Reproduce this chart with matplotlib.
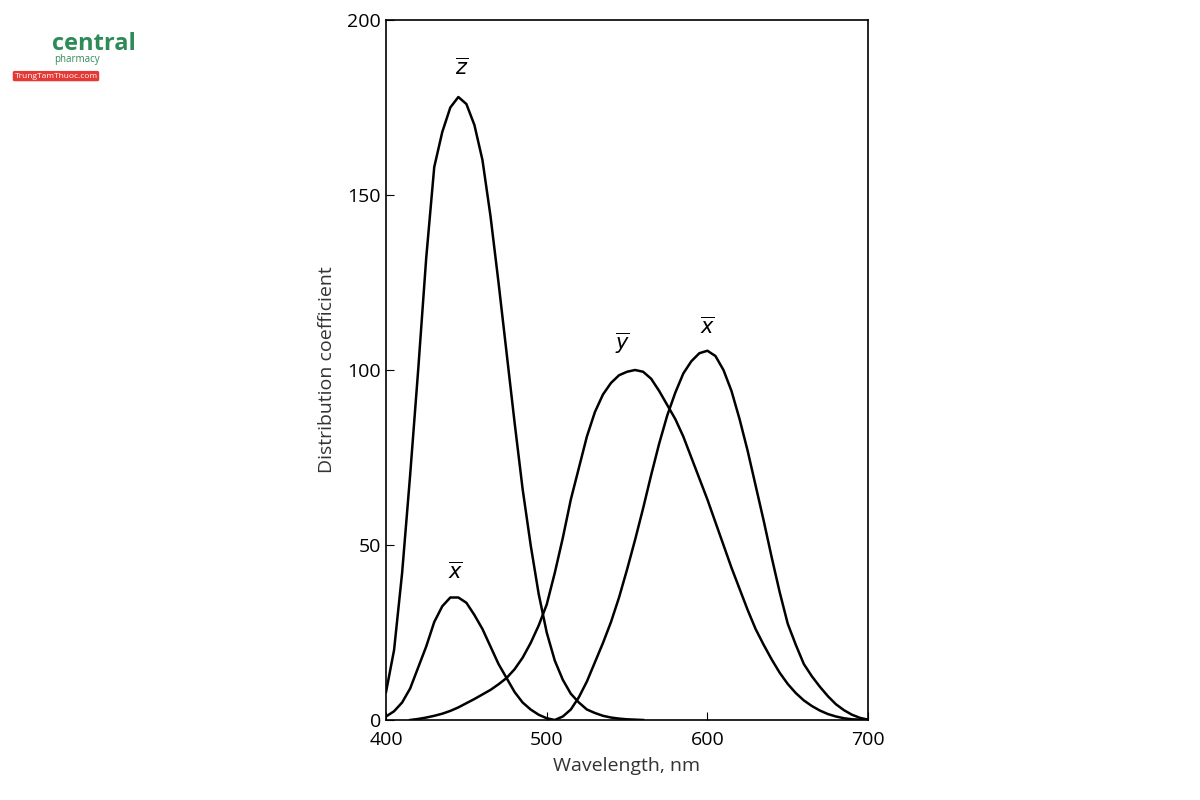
import numpy as np
import matplotlib.pyplot as plt

# colour matching curves (wavelength nm, coefficient)
z_wl = list(range(400, 565, 5))
z_val = [8, 20, 42, 70, 100, 132, 158, 168, 175, 178, 176, 170, 160, 144, 125, 105, 85,
         66, 50, 36, 25, 17, 11.5, 7.5, 5, 3, 2, 1.2, 0.7, 0.4, 0.2, 0.1, 0]

x_wl = list(range(400, 705, 5))
x_val = [1, 2.5, 5, 9, 15, 21, 28, 32.5, 35, 35, 33.5, 30, 26, 21, 16, 12, 8, 5, 3, 1.5, 0.5,
         0, 1, 3, 6.5, 11, 16.5, 22, 28, 35, 43, 51.5, 60.5, 70, 79, 87, 93.5, 99, 102.5,
         104.8, 105.5, 104, 100, 94, 86, 77, 67, 57, 46.5, 36.5, 27.5, 21.5, 16, 12.5, 9.5,
         6.8, 4.5, 2.8, 1.5, 0.6, 0.1]

y_wl = list(range(415, 705, 5))
y_val = [0, 0.3, 0.7, 1.2, 1.8, 2.6, 3.6, 4.8, 6, 7.3, 8.6, 10.2, 12, 14.5, 17.8, 22, 27, 33,
         42, 52, 63, 72, 81, 88, 93, 96.3, 98.5, 99.5, 100, 99.5, 97.5, 94, 90, 86, 81,
         75, 69, 63, 56.5, 50, 43.5, 37.5, 31.5, 26, 21.5, 17.3, 13.5, 10.3, 7.7, 5.6, 4,
         2.7, 1.7, 1, 0.5, 0.2, 0.1, 0]

labels = [r"$\overline{z}$", r"$\overline{x}$", r"$\overline{y}$", r"$\overline{x}$"]
label_pos = [(447, 183), (443, 39), (547, 104), (600, 109)]

plt.rcParams["font.family"] = ["Open Sans", "DejaVu Sans"]
plt.rcParams["mathtext.fontset"] = "dejavusans"

fig = plt.figure(figsize=(12, 8), dpi=100)
ax = fig.add_axes([0.3217, 0.1, 0.4017, 0.875])

for wl, val in [(z_wl, z_val), (x_wl, x_val), (y_wl, y_val)]:
    ax.plot(wl, val, color="black", lw=1.8)

for txt, (px, py) in zip(labels, label_pos):
    ax.text(px, py, txt, fontsize=15, ha="center", va="bottom")

ax.set_xlim(400, 700)
ax.set_ylim(0, 200)
ax.set_xticks([400, 500, 600, 700])
ax.set_yticks([0, 50, 100, 150, 200])
ax.tick_params(direction="in", labelsize=14, length=6)
ax.tick_params(axis="x", pad=8)
ax.set_xlabel("Wavelength, nm", fontsize=14, labelpad=6, color="#333333")
ax.set_ylabel("Distribution coefficient", fontsize=14, labelpad=8, color="#333333")
for s in ax.spines.values():
    s.set_linewidth(1.2)

# logo text top left
fig.text(0.043, 0.938, "central", fontsize=17, color="#2e8b57", fontweight="bold")
fig.text(0.045, 0.922, "pharmacy", fontsize=7, color="#2e8b57")
fig.text(0.012, 0.903, "TrungTamThuoc.com", fontsize=6, color="white",
         bbox=dict(boxstyle="round,pad=0.2", fc="#e53935", ec="none"))

fig.savefig("out.png", dpi=100, facecolor="w")
